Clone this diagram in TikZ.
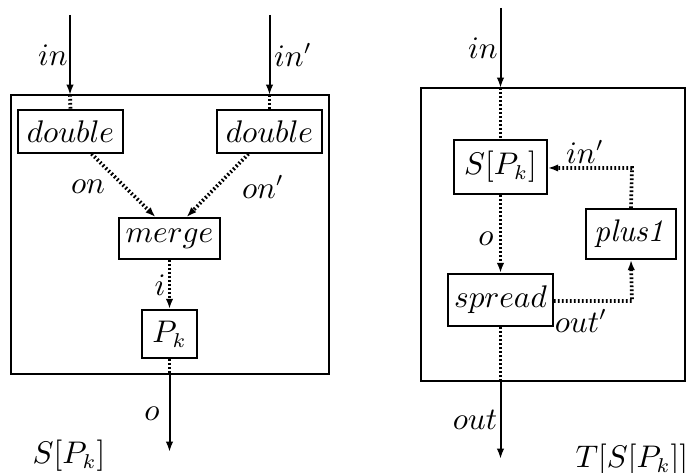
\documentclass[tikz,border=0pt]{standalone}
\usetikzlibrary{arrows.meta,calc}
\begin{document}
\begin{tikzpicture}[x=0.35pt,y=-0.35pt,
  box/.style={draw,line width=0.6pt,inner sep=0pt,font=\fontsize{10.5}{12}\selectfont},
  lbl/.style={inner sep=0pt,font=\fontsize{10.5}{12}\selectfont},
  solidarrow/.style={line width=0.7pt,-{Latex[length=3.6pt,width=2.6pt]}},
  dotline/.style={line width=1.3pt,dash pattern=on 0.6pt off 0.8pt},
  dotarrow/.style={dotline,-{Latex[length=3.6pt,width=2.6pt]}},
  frame/.style={draw,line width=0.7pt}]
\useasboundingbox (0,0) rectangle (686,473);
% ---------- left diagram ----------
\node[frame,minimum width=318*0.35pt,minimum height=279*0.35pt,inner sep=0pt] (outerL) at (170,234.5) {};
\node[box,minimum width=105*0.35pt,minimum height=43*0.35pt] (dL) at (70.5,131.5) {$double$};
\node[box,minimum width=105*0.35pt,minimum height=43*0.35pt] (dR) at (269.5,131.5) {$double$};
\node[box,minimum width=101*0.35pt,minimum height=41*0.35pt] (merge) at (169.5,238.5) {$merge$};
\node[box,minimum width=55*0.35pt,minimum height=48*0.35pt] (Pk) at (169.5,334) {$P_k$};
\coordinate (inLtop) at (70,15);
\coordinate (inLbox) at (70,95);
\coordinate (inRtop) at (269.5,15);
\coordinate (inRbox) at (269.5,95);
\coordinate (oLbox) at (169.5,374);
\coordinate (oLend) at (169.5,452);
\draw[solidarrow] (inLtop) -- (inLbox);
\draw[dotline] (inLbox) -- (dL.north);
\draw[solidarrow] (inRtop) -- (inRbox);
\draw[dotline] (inRbox) -- (dR.north);
\draw[dotarrow] ($(dL.south)+(21,0)$) -- ($(merge.north)+(-14,0)$);
\draw[dotarrow] ($(dR.south)+(-21,0)$) -- ($(merge.north)+(17,0)$);
\draw[dotarrow] (merge.south) -- (Pk.north);
\draw[dotline] (Pk.south) -- (oLbox);
\draw[solidarrow] (oLbox) -- (oLend);
\node[lbl] (lin) at (53,55) {$in$};
\node[lbl] (linp) at (293,55) {$in'$};
\node[lbl] (lon) at (88,187) {$on$};
\node[lbl] (lonp) at (263,187) {$on'$};
\node[lbl] (li) at (160,285) {$i$};
\node[lbl] (lo) at (152,414) {$o$};
\node[lbl] (lS) at (69,456) {$S[P_k]$};
% ---------- right diagram ----------
\node[frame,minimum width=264*0.35pt,minimum height=293*0.35pt,inner sep=0pt] (outerR) at (553,234.5) {};
\node[box,minimum width=93*0.35pt,minimum height=54*0.35pt] (S) at (500.5,167) {$S[P_k]$};
\node[box,minimum width=90*0.35pt,minimum height=50*0.35pt] (plus) at (631,234) {$\mathit{plus1}$};
\node[box,minimum width=105*0.35pt,minimum height=52*0.35pt] (spread) at (500.5,300) {$spread$};
\coordinate (rintop) at (500.5,8);
\coordinate (rinbox) at (500.5,88);
\coordinate (routbox) at (500.5,381);
\coordinate (routend) at (500.5,459);
\coordinate (cornerlo) at (632,301);
\coordinate (cornerhi) at (632,168);
\draw[solidarrow] (rintop) -- (rinbox);
\draw[dotline] (rinbox) -- (S.north);
\draw[dotarrow] (S.south) -- (spread.north);
\draw[dotarrow] (spread.east |- cornerlo) -- (cornerlo) -- (plus.south);
\draw[dotarrow] (plus.north) -- (cornerhi) -- (S.east |- cornerhi);
\draw[dotline] (spread.south) -- (routbox);
\draw[solidarrow] (routbox) -- (routend);
\node[lbl] (rin) at (483,48) {$in$};
\node[lbl] (rinp) at (585,152) {$in'$};
\node[lbl] (ro) at (486,239) {$o$};
\node[lbl] (routp) at (581,321) {$out'$};
\node[lbl] (rout) at (475,420) {$out$};
\node[lbl,anchor=west] (lT) at (575,460) {$T[S[P_k]]$};
\end{tikzpicture}
\end{document}
